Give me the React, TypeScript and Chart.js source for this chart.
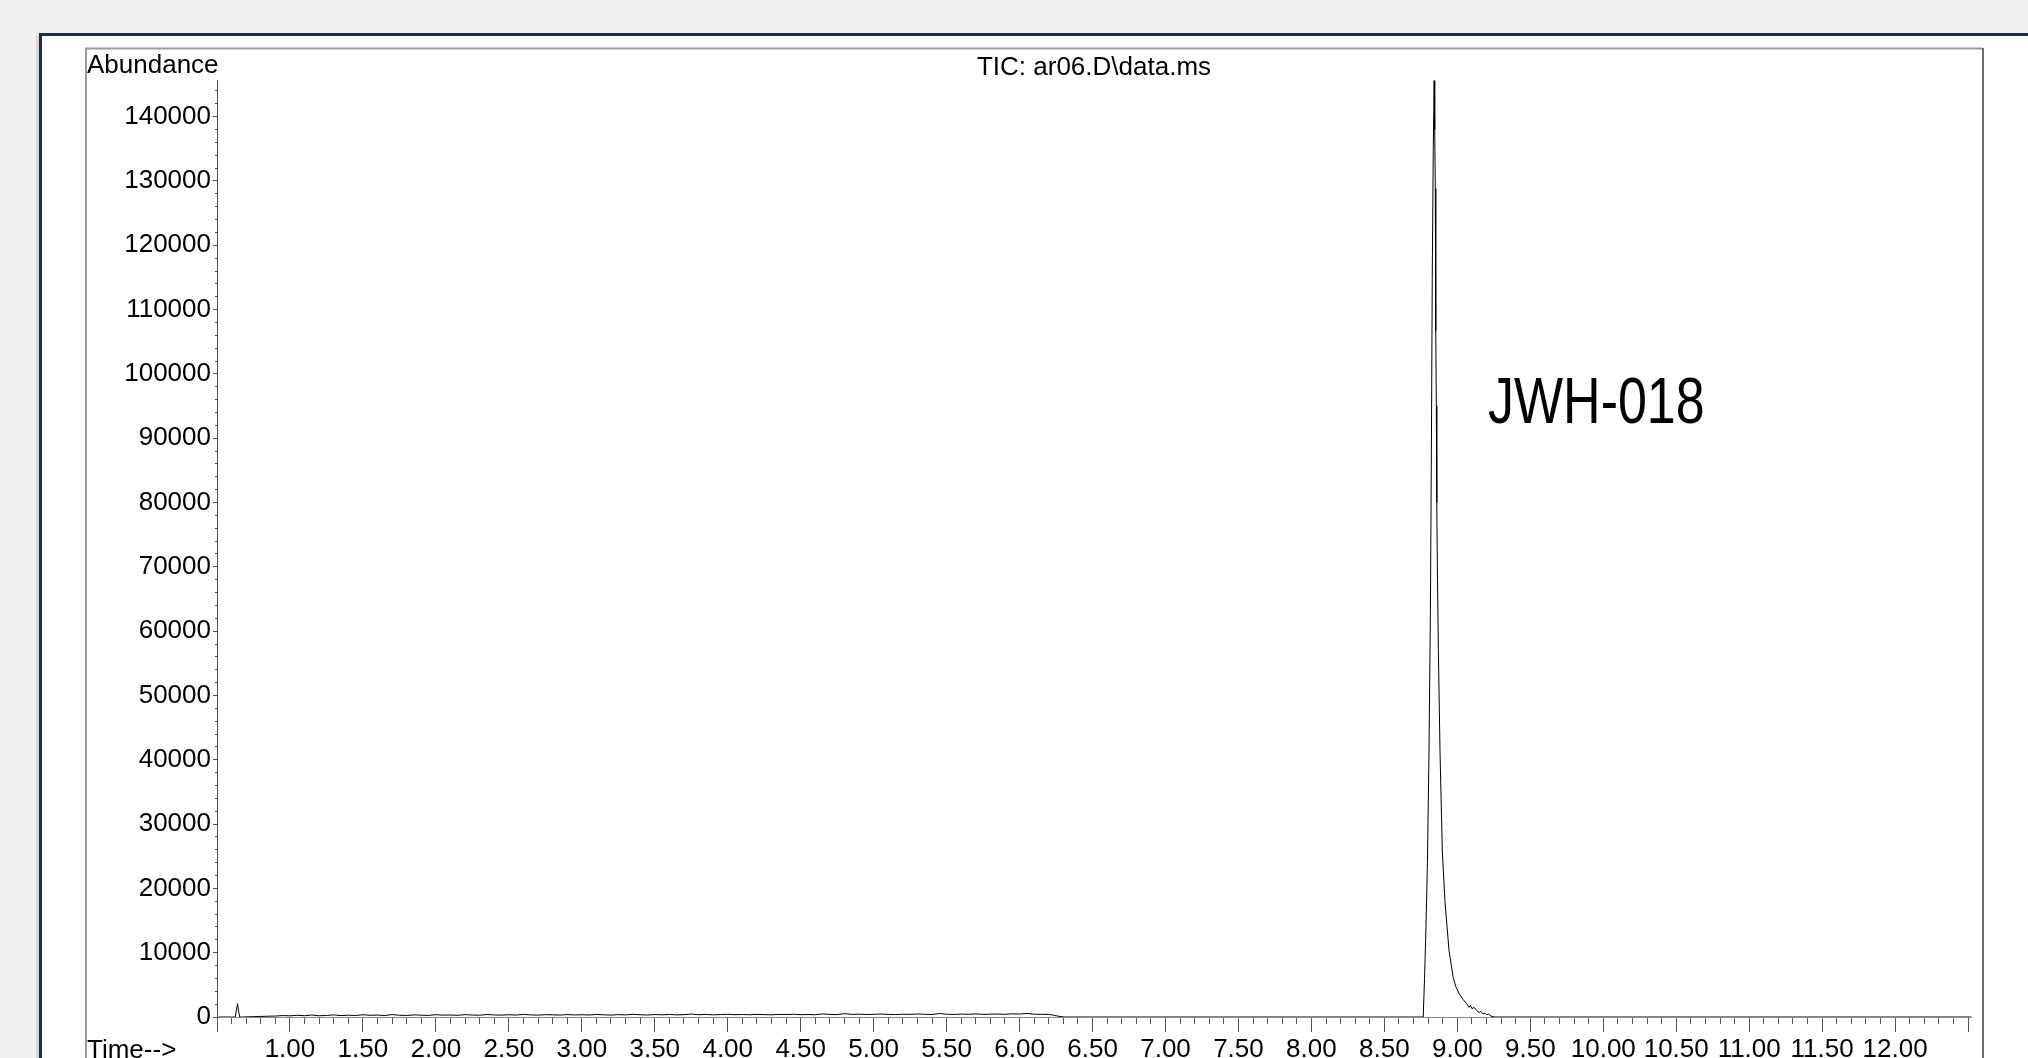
import React, { useEffect, useRef } from 'react';
import { Chart, registerables } from 'chart.js';

Chart.register(...registerables);

const W = 2028;
const H = 1058;
const FONT = '"Liberation Sans", Arial, sans-serif';

const TITLE = 'TIC: ar06.D\\data.ms';
const Y_LABEL = 'Abundance';
const X_LABEL = 'Time-->';
const PEAK_LABEL = 'JWH-018';
const PEAK_LABEL_TIME = 9.21;
const PEAK_LABEL_ABUNDANCE = 92400;

const X_MIN = 0.5;
const X_MAX = 12.52;
const Y_MIN = 0;
const Y_MAX = 145700;

// major x ticks and their labels ('' = tick without label)
const X_MAJOR_TICKS = [0.5, 1.0, 1.5, 2.0, 2.5, 3.0, 3.5, 4.0, 4.5, 5.0, 5.5, 6.0, 6.5, 7.0, 7.5, 8.0, 8.5, 9.0, 9.5, 10.0, 10.5, 11.0, 11.5, 12.0, 12.5];
const X_TICK_LABELS = ['', '1.00', '1.50', '2.00', '2.50', '3.00', '3.50', '4.00', '4.50', '5.00', '5.50', '6.00', '6.50', '7.00', '7.50', '8.00', '8.50', '9.00', '9.50', '10.00', '10.50', '11.00', '11.50', '12.00', ''];
const X_MINOR_STEP = 0.1;

const Y_MAJOR_TICKS = [0, 10000, 20000, 30000, 40000, 50000, 60000, 70000, 80000, 90000, 100000, 110000, 120000, 130000, 140000];
const Y_TICK_LABELS = ['0', '10000', '20000', '30000', '40000', '50000', '60000', '70000', '80000', '90000', '100000', '110000', '120000', '130000', '140000'];
const Y_MINOR_STEP = 2000;

// start of run with the small early peak
const startTimes = [0.51, 0.6, 0.625, 0.633, 0.641, 0.648, 0.656, 0.68, 0.75, 0.85];
const startValues = [0, 0, 0, 1100, 2080, 900, 0, 0, 60, 120];

// baseline noise 0.90 - 6.20 min
const noiseTimes = [
  0.9, 0.95, 1.0, 1.05, 1.1, 1.15, 1.2, 1.25, 1.3, 1.35, 1.4, 1.45, 1.5, 1.55, 1.6, 1.65, 1.7, 1.75, 1.8, 1.85,
  1.9, 1.95, 2.0, 2.05, 2.1, 2.15, 2.2, 2.25, 2.3, 2.35, 2.4, 2.45, 2.5, 2.55, 2.6, 2.65, 2.7, 2.75, 2.8, 2.85,
  2.9, 2.95, 3.0, 3.05, 3.1, 3.15, 3.2, 3.25, 3.3, 3.35, 3.4, 3.45, 3.5, 3.55, 3.6, 3.65, 3.7, 3.75, 3.8, 3.85,
  3.9, 3.95, 4.0, 4.05, 4.1, 4.15, 4.2, 4.25, 4.3, 4.35, 4.4, 4.45, 4.5, 4.55, 4.6, 4.65, 4.7, 4.75, 4.8, 4.85,
  4.9, 4.95, 5.0, 5.05, 5.1, 5.15, 5.2, 5.25, 5.3, 5.35, 5.4, 5.45, 5.5, 5.55, 5.6, 5.65, 5.7, 5.75, 5.8, 5.85,
  5.9, 5.95, 6.0, 6.05, 6.1, 6.15, 6.2,
];
const noiseValues = [
  150, 220, 180, 260, 200, 310, 190, 240, 330, 210, 280, 230, 350, 260, 300, 220, 380, 270, 240, 330,
  280, 250, 360, 290, 310, 260, 370, 300, 280, 390, 320, 290, 350, 300, 410, 330, 290, 360, 340, 300,
  380, 320, 350, 310, 400, 340, 300, 370, 330, 420, 350, 310, 380, 340, 400, 330, 370, 450, 360, 400,
  340, 380, 420, 360, 390, 350, 410, 370, 340, 400, 380, 430, 360, 390, 350, 480, 400, 370, 520, 410,
  440, 390, 420, 460, 400, 380, 430, 410, 470, 420, 390, 540, 430, 400, 450, 420, 480, 410, 440, 460,
  420, 490, 450, 560, 430, 420, 400,
];

// end of noisy baseline and flat region
const dropTimes = [6.23, 6.26, 6.29, 6.31, 8.7];
const dropValues = [300, 150, 40, 0, 0];

// JWH-018 peak
const peakTimes = [
  8.766, 8.775, 8.785, 8.795, 8.805, 8.815, 8.822, 8.828, 8.835, 8.841, 8.845, 8.849, 8.852, 8.856, 8.859,
  8.864, 8.87, 8.881, 8.897, 8.915, 8.943, 8.972, 8.99, 9.013, 9.04, 9.063, 9.08, 9.09, 9.1, 9.115, 9.132,
  9.15, 9.16, 9.175, 9.19, 9.2, 9.215, 9.23, 9.257,
];
const peakValues = [
  0, 6000, 14000, 24000, 40000, 62000, 88000, 115000, 135000, 145600, 138000, 128800, 106700, 95000, 80000,
  68000, 57000, 41400, 25800, 18000, 10300, 6100, 4700, 3600, 2700, 2100, 1500, 1800, 1300, 1500, 1000,
  700, 900, 500, 600, 350, 450, 150, 0,
];

// tail to end of run
const endTimes = [12.52];
const endValues = [0];

function toPoints(t: number[], v: number[]) {
  return t.map((x, i) => ({ x, y: v[i] }));
}

function stepTicks(min: number, max: number, step: number) {
  const out: { value: number }[] = [];
  const n = Math.floor((max - min) / step + 1e-9);
  for (let i = 0; i <= n; i++) out.push({ value: Math.round((min + i * step) * 1000) / 1000 });
  return out;
}

function labelFor(values: number[], labels: string[], v: number) {
  const i = values.findIndex((t) => Math.abs(t - v) < 1e-6);
  return i >= 0 ? labels[i] : '';
}

const framePlugin = {
  id: 'frameAndText',
  beforeDraw(chart: any) {
    const ctx = chart.ctx as CanvasRenderingContext2D;
    ctx.save();
    ctx.fillStyle = '#f0f0f0';
    ctx.fillRect(0, 0, W, H);
    ctx.fillStyle = '#d6d6d6';
    ctx.fillRect(36, 36, 3, H - 36);
    ctx.fillStyle = '#ffffff';
    ctx.fillRect(40, 35, W - 40, H - 35);
    ctx.strokeStyle = '#1c2d45';
    ctx.lineWidth = 3;
    ctx.beginPath();
    ctx.moveTo(40.5, H);
    ctx.lineTo(40.5, 34.5);
    ctx.lineTo(W, 34.5);
    ctx.stroke();
    // inner plot frame
    ctx.lineWidth = 2;
    ctx.strokeStyle = '#9a9a9a';
    ctx.beginPath();
    ctx.moveTo(86, H);
    ctx.lineTo(86, 48.5);
    ctx.lineTo(1983, 48.5);
    ctx.stroke();
    ctx.strokeStyle = '#6e6e6e';
    ctx.beginPath();
    ctx.moveTo(1983, 48);
    ctx.lineTo(1983, H);
    ctx.stroke();
    ctx.restore();
  },
  afterDraw(chart: any) {
    const ctx = chart.ctx as CanvasRenderingContext2D;
    const area = chart.chartArea;
    ctx.save();
    ctx.fillStyle = '#000';
    ctx.textBaseline = 'alphabetic';
    ctx.font = `26px ${FONT}`;
    ctx.textAlign = 'left';
    ctx.fillText(Y_LABEL, 87, 73);
    ctx.fillText(X_LABEL, 87, 1058);
    ctx.textAlign = 'center';
    ctx.fillText(TITLE, (area.left + area.right) / 2, 75);
    const px = chart.scales.x.getPixelForValue(PEAK_LABEL_TIME);
    const py = chart.scales.y.getPixelForValue(PEAK_LABEL_ABUNDANCE);
    ctx.translate(px, py);
    ctx.scale(1, 1.26);
    ctx.textAlign = 'left';
    ctx.font = `52px ${FONT}`;
    ctx.fillText(PEAK_LABEL, 0, 0);
    ctx.restore();
  },
};

export default function App() {
  const ref = useRef<HTMLCanvasElement | null>(null);

  useEffect(() => {
    if (!ref.current) return;
    const points = [
      ...toPoints(startTimes, startValues),
      ...toPoints(noiseTimes, noiseValues),
      ...toPoints(dropTimes, dropValues),
      ...toPoints(peakTimes, peakValues),
      ...toPoints(endTimes, endValues),
    ];
    const tickFont = { family: FONT, size: 26 };
    const chart = new Chart(ref.current, {
      type: 'line',
      data: {
        datasets: [
          {
            data: points,
            borderColor: '#000000',
            borderWidth: 1,
            pointRadius: 0,
            tension: 0,
            fill: false,
            xAxisID: 'x',
            yAxisID: 'y',
          },
        ],
      },
      options: {
        animation: false,
        responsive: false,
        devicePixelRatio: 1,
        events: [],
        layout: { padding: { left: 87, right: W - 1971, top: 80, bottom: 0 } },
        plugins: { legend: { display: false }, tooltip: { enabled: false }, title: { display: false } },
        scales: {
          x: {
            type: 'linear',
            position: 'bottom',
            min: X_MIN,
            max: X_MAX,
            weight: 1,
            z: 1,
            afterBuildTicks: (s: any) => {
              s.ticks = X_MAJOR_TICKS.map((value) => ({ value }));
            },
            afterFit: (s: any) => {
              s.height = 41;
            },
            border: { display: true, color: '#8a8a8a', width: 1 },
            grid: { display: true, drawOnChartArea: false, drawTicks: true, tickLength: 15, tickColor: '#555555', tickWidth: 1 },
            ticks: {
              autoSkip: false,
              maxRotation: 0,
              minRotation: 0,
              padding: 2,
              color: '#000000',
              font: tickFont,
              callback: (v: any) => labelFor(X_MAJOR_TICKS, X_TICK_LABELS, Number(v)),
            },
          },
          xMinor: {
            type: 'linear',
            position: 'bottom',
            min: X_MIN,
            max: X_MAX,
            weight: 0,
            z: 1,
            afterBuildTicks: (s: any) => {
              s.ticks = stepTicks(X_MIN, X_MAX, X_MINOR_STEP);
            },
            afterFit: (s: any) => {
              s.height = 0;
            },
            border: { display: false },
            grid: { display: true, drawOnChartArea: false, drawTicks: true, tickLength: 7, tickColor: '#555555', tickWidth: 1 },
            ticks: { autoSkip: false, maxRotation: 0, minRotation: 0, display: false },
          },
          y: {
            type: 'linear',
            position: 'left',
            min: Y_MIN,
            max: Y_MAX,
            weight: 1,
            afterBuildTicks: (s: any) => {
              s.ticks = Y_MAJOR_TICKS.map((value) => ({ value }));
            },
            afterFit: (s: any) => {
              s.width = 130;
            },
            border: { display: true, color: '#505050', width: 1 },
            grid: { display: true, drawOnChartArea: false, drawTicks: true, tickLength: 4, tickColor: '#505050', tickWidth: 1 },
            ticks: {
              autoSkip: false,
              padding: 2,
              color: '#000000',
              font: tickFont,
              callback: (v: any) => labelFor(Y_MAJOR_TICKS, Y_TICK_LABELS, Number(v)),
            },
          },
          yMinor: {
            type: 'linear',
            position: 'left',
            min: Y_MIN,
            max: Y_MAX,
            weight: 0,
            afterBuildTicks: (s: any) => {
              s.ticks = stepTicks(Y_MIN, Y_MAX, Y_MINOR_STEP);
            },
            afterFit: (s: any) => {
              s.width = 0;
            },
            border: { display: false },
            grid: { display: true, drawOnChartArea: false, drawTicks: true, tickLength: 2, tickColor: '#505050', tickWidth: 1 },
            ticks: { autoSkip: false, display: false },
          },
        },
      },
      plugins: [framePlugin],
    } as any);
    return () => chart.destroy();
  }, []);

  return (
    <div style={{ position: 'fixed', left: 0, top: 0, width: W, height: H }}>
      <canvas ref={ref} width={W} height={H} style={{ display: 'block', width: W, height: H }} />
    </div>
  );
}
